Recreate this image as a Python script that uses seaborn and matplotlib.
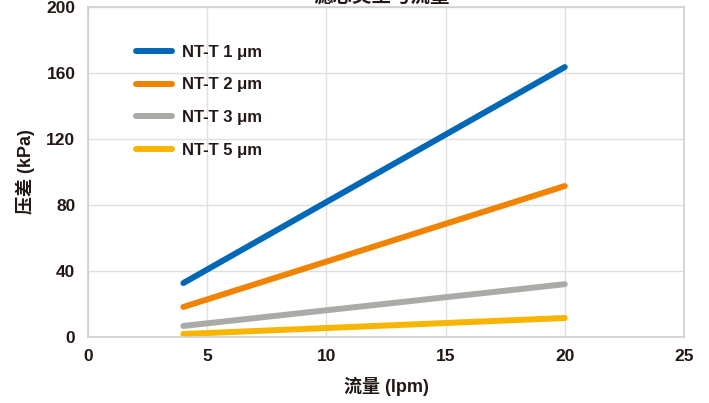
import pandas as pd
import matplotlib
matplotlib.use('Agg')
import matplotlib.pyplot as plt
import seaborn as sns

# flow (lpm) vs pressure drop (kPa) for each filter grade
flow = [4, 20]
nt_1um = [32.7, 163.6]
nt_2um = [18.2, 91.5]
nt_3um = [6.7, 32.0]
nt_5um = [1.8, 11.5]
series_names = ['NT-T 1 μm', 'NT-T 2 μm', 'NT-T 3 μm', 'NT-T 5 μm']
colors = ['#0068b7', '#f08300', '#aaaaa6', '#f8b500']

df = pd.DataFrame({
    'flow': flow * 4,
    'dp': nt_1um + nt_2um + nt_3um + nt_5um,
    'grade': [n for n in series_names for _ in flow],
})

sns.set_style('white')
plt.rcParams['font.family'] = ['Liberation Sans', 'Noto Sans CJK SC', 'DejaVu Sans']

fig = plt.figure(figsize=(7.09, 4.03), dpi=100)
ax = fig.add_axes([0.1241, 0.1638, 0.8406, 0.8188])

sns.lineplot(data=df, x='flow', y='dp', hue='grade', palette=colors,
             linewidth=4.3, solid_capstyle='round', ax=ax, legend=False)

ax.set_xlim(0, 25)
ax.set_ylim(0, 200)
ax.set_xticks([0, 5, 10, 15, 20, 25])
ax.set_yticks([0, 40, 80, 120, 160, 200])
ax.grid(True, color='#e0e0e0', linewidth=1)
ax.set_axisbelow(True)
for s in ax.spines.values():
    s.set_color('#cfcfcf')
    s.set_linewidth(1.2)
ax.tick_params(length=0, labelsize=12.5, colors='#231815', pad=9)
for lab in ax.get_xticklabels() + ax.get_yticklabels():
    lab.set_fontweight('bold')

ax.set_xlabel('流量 (lpm)', fontsize=13, fontweight='bold', color='#231815', labelpad=9)
ax.set_ylabel('压差 (kPa)', fontsize=13, fontweight='bold', color='#231815', labelpad=8)

handles = [plt.Line2D([], [], color=c, linewidth=4.3, solid_capstyle='round') for c in colors]
leg = ax.legend(handles, series_names, loc='upper left', bbox_to_anchor=(0.08, 0.886),
                frameon=False, handlelength=2.2, labelspacing=1.07, handletextpad=0.6,
                borderpad=0, borderaxespad=0,
                prop={'size': 12, 'weight': 'bold'})
for t in leg.get_texts():
    t.set_color('#231815')

# title is mostly cut off at the top edge in the original
fig.text(0.539, 0.9876, '滤芯类型与流量', ha='center', va='bottom',
         fontsize=14, fontweight='bold', color='#231815')

fig.savefig('out.png', dpi=100)
